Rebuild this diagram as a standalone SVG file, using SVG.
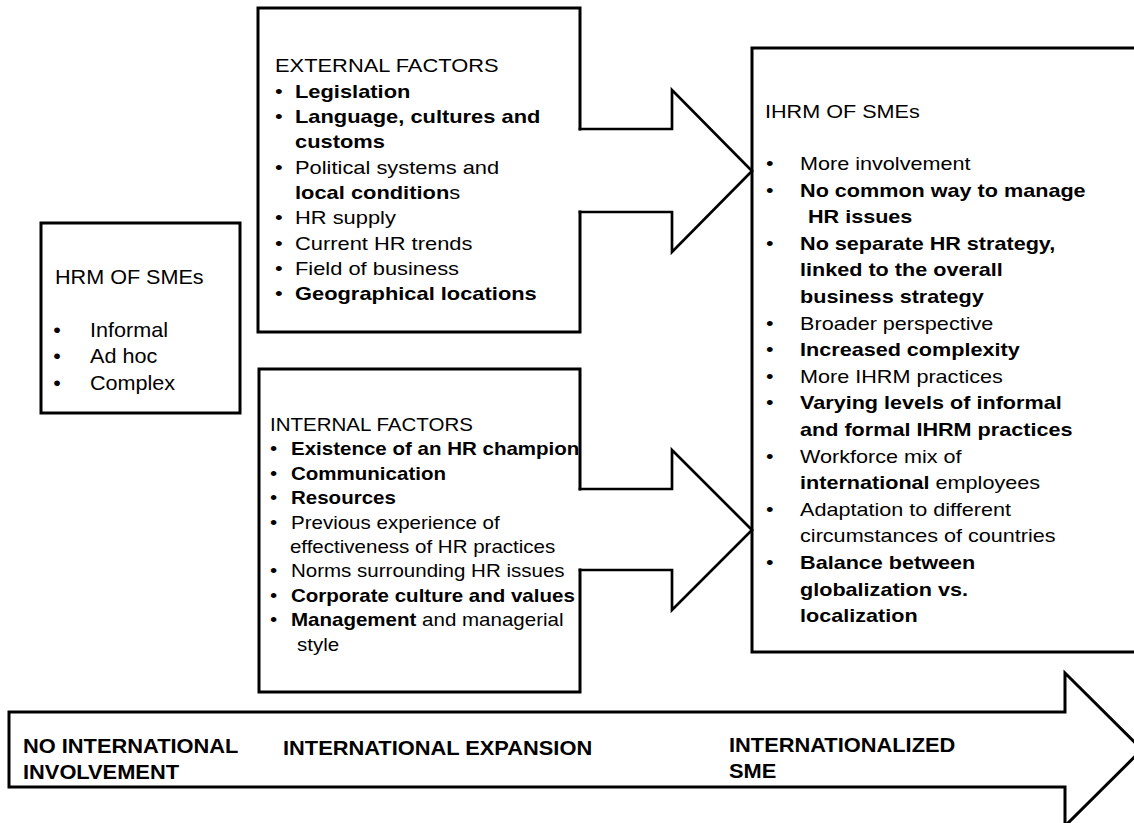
<svg xmlns="http://www.w3.org/2000/svg" width="1134" height="823" viewBox="0 0 1134 823">
<style>
.t { font-family: "Liberation Sans", Arial, sans-serif; fill: #000; }
.b { font-weight: bold; }
.box { fill: none; stroke: #000; stroke-width: 3; stroke-linecap: square; stroke-linejoin: miter; }
.arr { fill: none; stroke: #000; stroke-width: 2.7; stroke-linecap: square; stroke-linejoin: miter; }
</style>
<rect x="0" y="0" width="1134" height="823" fill="#fff"/>

<g id="hrm-smes">
  <rect class="box" x="41" y="223" width="199" height="190"/>
  <g class="t" font-size="20" transform="translate(55 0) scale(1.08 1)">
    <text x="0" y="284">HRM OF SMEs</text>
    <text x="-1.7" y="337">•</text><text x="32.4" y="337">Informal</text>
    <text x="-1.7" y="363">•</text><text x="32.4" y="363">Ad hoc</text>
    <text x="-1.7" y="390">•</text><text x="32.4" y="390">Complex</text>
  </g>
</g>

<g id="external-factors">
  <path class="box" d="M580,129 V8 H258 V332 H580 V212"/>
  <g class="t" font-size="17.5" transform="translate(275 0) scale(1.25 1)">
    <text x="0" y="72.5">EXTERNAL FACTORS</text>
    <text x="0" y="97.8">•</text><text x="16" y="97.8" class="b">Legislation</text>
    <text x="0" y="123.1">•</text><text x="16" y="123.1" class="b">Language, cultures and</text>
    <text x="16" y="148.4" class="b">customs</text>
    <text x="0" y="173.7">•</text><text x="16" y="173.7">Political systems and</text>
    <text x="16" y="199"><tspan class="b">local condition</tspan>s</text>
    <text x="0" y="224.3">•</text><text x="16" y="224.3">HR supply</text>
    <text x="0" y="249.6">•</text><text x="16" y="249.6">Current HR trends</text>
    <text x="0" y="274.9">•</text><text x="16" y="274.9">Field of business</text>
    <text x="0" y="300.2">•</text><text x="16" y="300.2" class="b">Geographical locations</text>
  </g>
</g>

<g id="internal-factors">
  <path class="box" d="M580,489 V369 H259 V692 H580 V570"/>
  <g class="t" font-size="18" transform="translate(270 0) scale(1.14 1)">
    <text x="0" y="431">INTERNAL FACTORS</text>
    <text x="0" y="455.4">•</text><text x="18.4" y="455.4" class="b">Existence of an HR champion</text>
    <text x="0" y="479.8">•</text><text x="18.4" y="479.8" class="b">Communication</text>
    <text x="0" y="504.2">•</text><text x="18.4" y="504.2" class="b">Resources</text>
    <text x="0" y="528.6">•</text><text x="18.4" y="528.6">Previous experience of</text>
    <text x="17.5" y="553">effectiveness of HR practices</text>
    <text x="0" y="577.4">•</text><text x="18.4" y="577.4">Norms surrounding HR issues</text>
    <text x="0" y="601.8">•</text><text x="18.4" y="601.8" class="b">Corporate culture and values</text>
    <text x="0" y="626.2">•</text><text x="18.4" y="626.2"><tspan class="b">Management</tspan> and managerial</text>
    <text x="23.7" y="650.6">style</text>
  </g>
</g>

<g id="ihrm-smes">
  <rect class="box" x="752" y="48" width="400" height="604"/>
  <g class="t" font-size="18" transform="translate(765 0) scale(1.2 1)">
    <text x="0" y="118">IHRM OF SMEs</text>
    <text x="0.8" y="170">•</text><text x="29.2" y="170">More involvement</text>
    <text x="0.8" y="196.6">•</text><text x="29.2" y="196.6" class="b">No common way to manage</text>
    <text x="35.8" y="223.2" class="b">HR issues</text>
    <text x="0.8" y="249.8">•</text><text x="29.2" y="249.8" class="b">No separate HR strategy,</text>
    <text x="29.2" y="276.4" class="b">linked to the overall</text>
    <text x="29.2" y="303" class="b">business strategy</text>
    <text x="0.8" y="329.6">•</text><text x="29.2" y="329.6">Broader perspective</text>
    <text x="0.8" y="356.2">•</text><text x="29.2" y="356.2" class="b">Increased complexity</text>
    <text x="0.8" y="382.8">•</text><text x="29.2" y="382.8">More IHRM practices</text>
    <text x="0.8" y="409.4">•</text><text x="29.2" y="409.4" class="b">Varying levels of informal</text>
    <text x="29.2" y="436" class="b">and formal IHRM practices</text>
    <text x="0.8" y="462.6">•</text><text x="29.2" y="462.6">Workforce mix of</text>
    <text x="29.2" y="489.2"><tspan class="b">international</tspan> employees</text>
    <text x="0.8" y="515.8">•</text><text x="29.2" y="515.8">Adaptation to different</text>
    <text x="29.2" y="542.4">circumstances of countries</text>
    <text x="0.8" y="569">•</text><text x="29.2" y="569" class="b">Balance between</text>
    <text x="29.2" y="595.6" class="b">globalization vs.</text>
    <text x="29.2" y="622.2" class="b">localization</text>
  </g>
</g>

<g id="internationalization-timeline">
  <path class="box" d="M9,712 H1065 V673 L1142,749.5 L1065,826 V787 H9 Z"/>
  <g class="t b" font-size="21">
    <g transform="translate(23 0) scale(1.04 1)">
      <text x="0" y="753">NO INTERNATIONAL</text>
      <text x="0" y="779">INVOLVEMENT</text>
    </g>
    <g transform="translate(283 0) scale(1.04 1)">
      <text x="0" y="755">INTERNATIONAL EXPANSION</text>
    </g>
    <g transform="translate(729 0) scale(1.04 1)">
      <text x="0" y="752">INTERNATIONALIZED</text>
      <text x="0" y="778">SME</text>
    </g>
  </g>
</g>

<g id="connectors">
  <path class="arr" d="M580,129 H672 V90 L752,171 L672,252 V212 H580"/>
  <path class="arr" d="M580,489 H672 V450 L752,530 L672,610 V570 H580"/>
</g>
</svg>
